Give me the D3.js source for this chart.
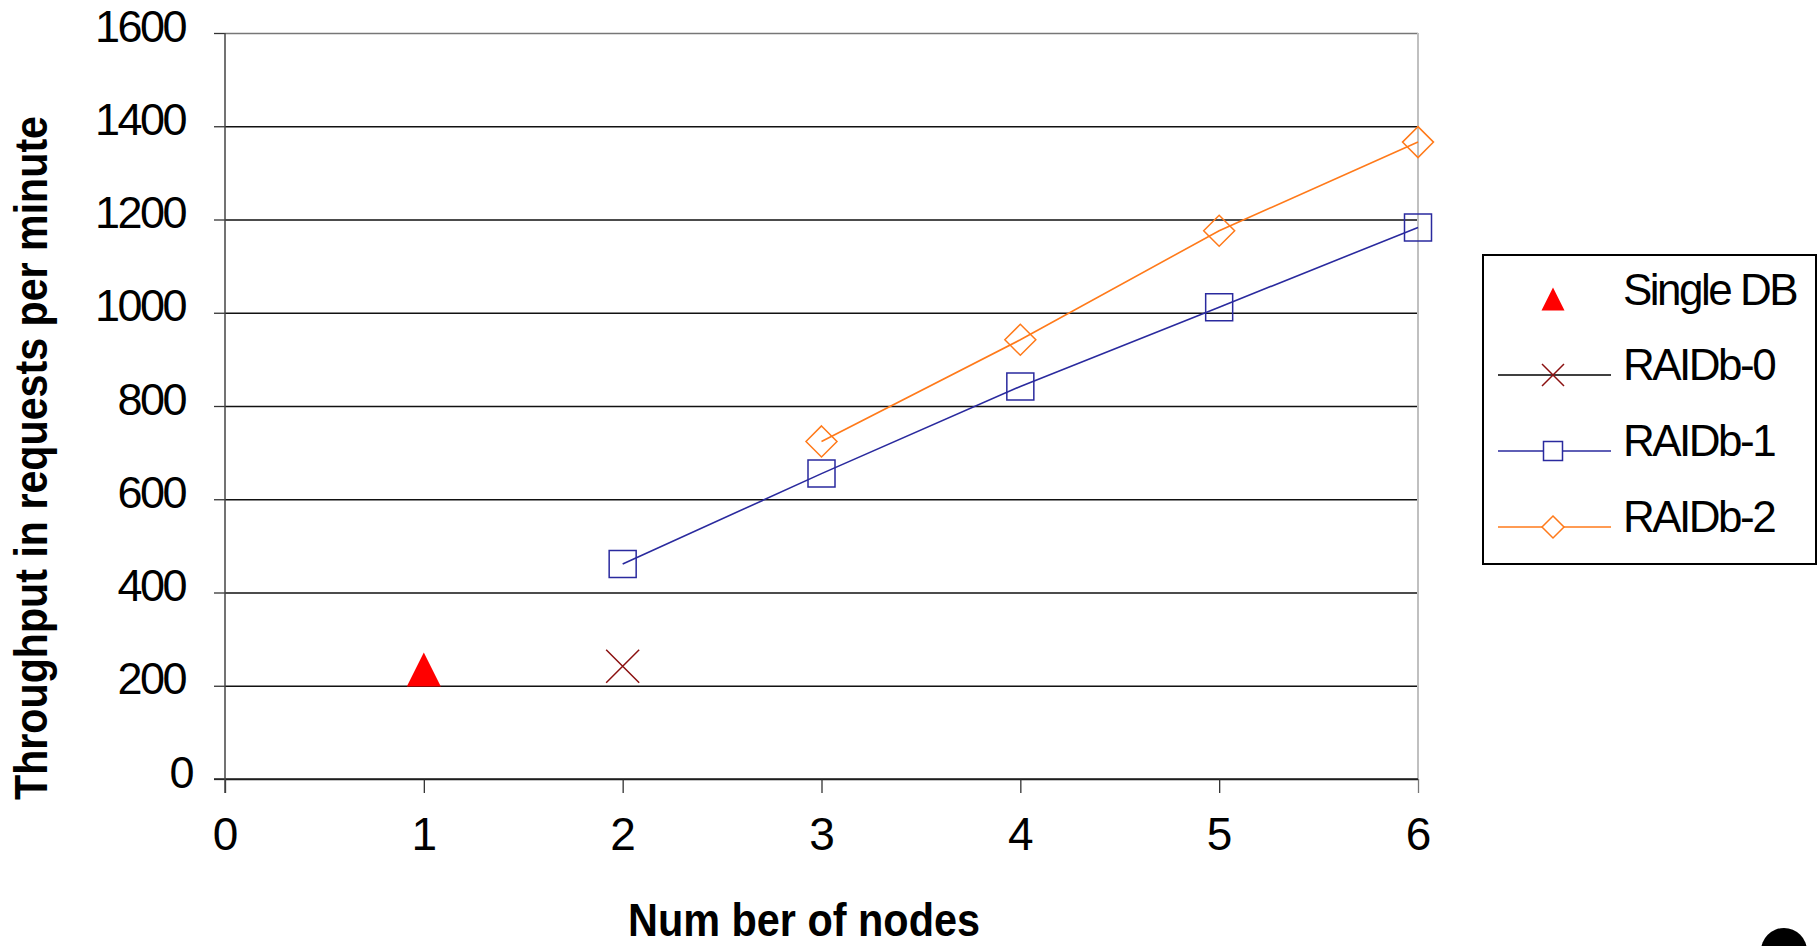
<!DOCTYPE html>
<html>
<head>
<meta charset="utf-8">
<script src="https://cdn.jsdelivr.net/npm/d3@7"></script>
<style>
	html, body { margin: 0; padding: 0; background: #fff; }
	svg { display: block; }
	text { font-family: "Liberation Sans", Arial, sans-serif; fill: #000; }
</style>
</head>
<body>
<script>

	// Data
	// ==============================================

	var nodes = [0, 1, 2, 3, 4, 5, 6];
	var yTicks = [0, 200, 400, 600, 800, 1000, 1200, 1400, 1600];

	var singleDB = [{n: 1, v: 235}];
	var raidb0 = [{n: 2, v: 242}];
	var raidb1 = [{n: 2, v: 461}, {n: 3, v: 655}, {n: 4, v: 842}, {n: 5, v: 1012}, {n: 6, v: 1183}];
	var raidb2 = [{n: 3, v: 724}, {n: 4, v: 942}, {n: 5, v: 1176}, {n: 6, v: 1366}];

	var seriesNames = ["Single DB", "RAIDb-0", "RAIDb-1", "RAIDb-2"];

	// Setup
	// ==============================================

	var W = 1818, H = 946;

	var svg = d3.select("body").append("svg")
		.attr("width", W)
		.attr("height", H);

	var x = d3.scaleLinear().domain([0, 6]).range([225, 1418]);
	var y = d3.scaleLinear().domain([0, 1600]).range([779, 33]);

	// Grid lines
	// ==============================================

	var grid = svg.append("g")
		.attr("transform", "translate(" + x(0) + ",0)")
		.call(d3.axisLeft(y).tickValues(yTicks).tickSize(-(x(6) - x(0))).tickFormat(""));

	grid.select(".domain").remove();
	grid.selectAll(".tick line")
		.attr("stroke", function(d){ return d === 1600 ? "#777" : "#111"; })
		.attr("stroke-width", 1.4);

	// right edge of plot area
	svg.append("line")
		.attr("x1", x(6)).attr("x2", x(6))
		.attr("y1", y(1600)).attr("y2", y(0))
		.attr("stroke", "#c0c0c0")
		.attr("stroke-width", 2);

	// Axes
	// ==============================================

	var yAxis = svg.append("g")
		.attr("transform", "translate(" + x(0) + ",0)")
		.call(d3.axisLeft(y).tickValues(yTicks).tickSize(11).tickPadding(29).tickSizeOuter(0).tickFormat(d3.format("d")));

	yAxis.select(".domain").remove();
	yAxis.selectAll(".tick line").attr("stroke", "#333").attr("stroke-width", 1.3);
	yAxis.selectAll(".tick text")
		.attr("dy", "8px")
		.attr("x", function(d){ return d === 0 ? -33 : -40; })
		.style("font-size", "45px")
		.style("letter-spacing", "-2.5px");

	var xAxis = svg.append("g")
		.attr("transform", "translate(0," + y(0) + ")")
		.call(d3.axisBottom(x).tickValues(nodes).tickSize(14).tickSizeOuter(0).tickFormat(d3.format("d")));

	xAxis.select(".domain").remove();
	xAxis.selectAll(".tick line")
		.attr("stroke", function(d){ return d === 6 ? "#777" : "#333"; })
		.attr("stroke-width", 1.3);
	xAxis.selectAll(".tick text")
		.attr("y", 71)
		.attr("dy", 0)
		.style("font-size", "46px");

	// axis lines
	svg.append("line")
		.attr("x1", x(0) - 11).attr("x2", x(6))
		.attr("y1", y(0)).attr("y2", y(0))
		.attr("stroke", "#222").attr("stroke-width", 1.5);

	svg.append("line")
		.attr("x1", x(0)).attr("x2", x(0))
		.attr("y1", y(1600)).attr("y2", y(0) + 14)
		.attr("stroke", "#444").attr("stroke-width", 1.5);

	// Axis titles
	// ==============================================

	svg.append("text")
		.attr("transform", "translate(47,458) rotate(-90)")
		.attr("text-anchor", "middle")
		.attr("textLength", 684)
		.attr("lengthAdjust", "spacingAndGlyphs")
		.style("font-size", "47px")
		.style("font-weight", "bold")
		.text("Throughput in requests per minute");

	svg.append("text")
		.attr("x", 628)
		.attr("y", 936)
		.attr("textLength", 352)
		.attr("lengthAdjust", "spacingAndGlyphs")
		.style("font-size", "46px")
		.style("font-weight", "bold")
		.text("Num ber of nodes");

	// Lines
	// ==============================================

	var line = d3.line()
		.x(function(d){ return x(d.n); })
		.y(function(d){ return y(d.v); });

	var blue = "#2a2a9e", orange = "#ff7a1a", darkRed = "#8b1010";

	svg.append("path").datum(raidb1)
		.attr("d", line).attr("fill", "none")
		.attr("stroke", blue).attr("stroke-width", 1.6);

	svg.append("path").datum(raidb2)
		.attr("d", line).attr("fill", "none")
		.attr("stroke", orange).attr("stroke-width", 1.6);

	// Markers
	// ==============================================

	function triangle(s){
		return "M0," + (-s / 2) + "L" + (s / 2) + "," + (s / 2) + "L" + (-s / 2) + "," + (s / 2) + "Z";
	}
	function cross(s){
		var h = s / 2;
		return "M" + (-h) + "," + (-h) + "L" + h + "," + h + "M" + h + "," + (-h) + "L" + (-h) + "," + h;
	}
	function square(s){
		var h = s / 2;
		return "M" + (-h) + "," + (-h) + "H" + h + "V" + h + "H" + (-h) + "Z";
	}
	function diamond(s){
		var h = s / 2;
		return "M0," + (-h) + "L" + h + ",0L0," + h + "L" + (-h) + ",0Z";
	}

	var styles = [
		{shape: triangle, fill: "#ff0000", stroke: "none", size: 34, legendSize: 23, line: null},
		{shape: cross, fill: "none", stroke: darkRed, size: 33, legendSize: 22, line: "#000"},
		{shape: square, fill: "none", stroke: blue, size: 27, legendSize: 19, line: blue},
		{shape: diamond, fill: "none", stroke: orange, size: 31, legendSize: 22, line: orange}
	];

	[singleDB, raidb0, raidb1, raidb2].forEach(function(data, i){
		var st = styles[i];
		svg.selectAll("path.m" + i)
			.data(data)
			.enter().append("path")
			.attr("class", "m" + i)
			.attr("transform", function(d){ return "translate(" + x(d.n) + "," + y(d.v) + ")"; })
			.attr("d", st.shape(st.size))
			.attr("fill", st.fill)
			.attr("stroke", st.stroke)
			.attr("stroke-width", 1.5);
	});

	// Legend
	// ==============================================

	var legend = svg.append("g");

	legend.append("rect")
		.attr("x", 1483).attr("y", 255)
		.attr("width", 333).attr("height", 309)
		.attr("fill", "#fff")
		.attr("stroke", "#000")
		.attr("stroke-width", 2);

	var rows = legend.selectAll("g.row")
		.data(seriesNames)
		.enter().append("g")
		.attr("class", "row")
		.attr("transform", function(d, i){ return "translate(0," + (299 + i * 76) + ")"; });

	rows.each(function(d, i){
		var g = d3.select(this), st = styles[i];
		if (st.line) {
			g.append("line")
				.attr("x1", 1498).attr("x2", 1611)
				.attr("stroke", st.line).attr("stroke-width", 1.5);
		}
		g.append("path")
			.attr("transform", "translate(1553,0)")
			.attr("d", st.shape(st.legendSize))
			.attr("fill", st.fill === "none" ? "#fff" : st.fill)
			.attr("stroke", st.stroke)
			.attr("stroke-width", 1.5);
		g.append("text")
			.attr("x", 1623)
			.attr("y", i === 0 ? 6 : 5)
			.style("font-size", "44px")
			.style("letter-spacing", "-2.5px")
			.text(d);
	});

	// stray blob in the bottom right corner
	svg.append("circle")
		.attr("cx", 1784).attr("cy", 951)
		.attr("r", 23)
		.attr("fill", "#000");

</script>
</body>
</html>
